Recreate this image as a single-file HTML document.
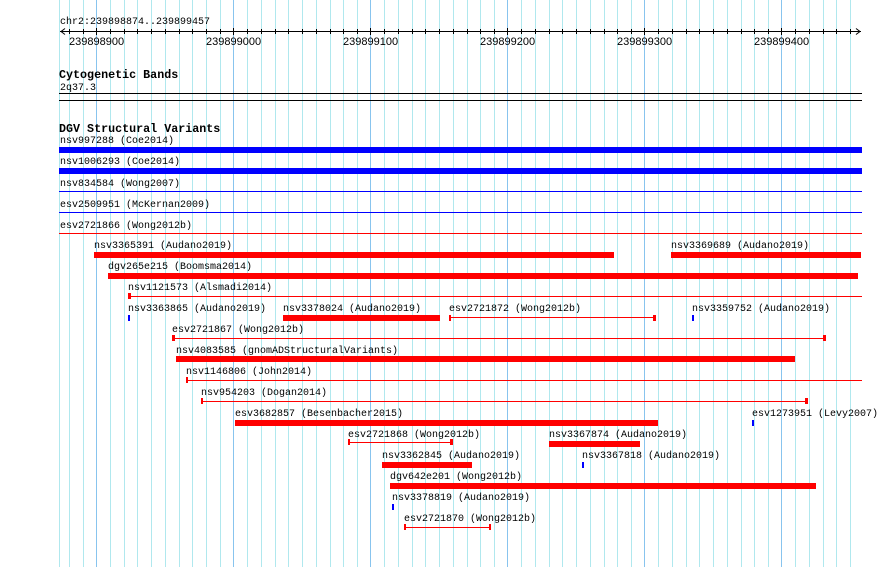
<!DOCTYPE html>
<html><head><meta charset="utf-8"><style>
html,body{margin:0;padding:0;background:#fff;width:890px;height:567px;overflow:hidden}
svg{display:block}
text{font-family:"Liberation Mono",monospace;font-size:10px;fill:#000}
.b{font-weight:bold;font-size:11.7px}
.n{font-family:"Liberation Sans",sans-serif;font-size:11px}
</style></head><body>
<svg width="890" height="567" xmlns="http://www.w3.org/2000/svg" shape-rendering="crispEdges">
<g stroke="#b0e8ee" stroke-width="1">
<line x1="59.5" y1="0" x2="59.5" y2="567"/>
<line x1="69.5" y1="0" x2="69.5" y2="567"/><line x1="83.5" y1="0" x2="83.5" y2="567"/>
<line x1="110.5" y1="0" x2="110.5" y2="567"/><line x1="124.5" y1="0" x2="124.5" y2="567"/><line x1="137.5" y1="0" x2="137.5" y2="567"/><line x1="151.5" y1="0" x2="151.5" y2="567"/><line x1="165.5" y1="0" x2="165.5" y2="567"/><line x1="179.5" y1="0" x2="179.5" y2="567"/><line x1="192.5" y1="0" x2="192.5" y2="567"/><line x1="206.5" y1="0" x2="206.5" y2="567"/><line x1="220.5" y1="0" x2="220.5" y2="567"/>
<line x1="247.5" y1="0" x2="247.5" y2="567"/><line x1="261.5" y1="0" x2="261.5" y2="567"/><line x1="275.5" y1="0" x2="275.5" y2="567"/><line x1="288.5" y1="0" x2="288.5" y2="567"/><line x1="302.5" y1="0" x2="302.5" y2="567"/><line x1="316.5" y1="0" x2="316.5" y2="567"/><line x1="330.5" y1="0" x2="330.5" y2="567"/><line x1="343.5" y1="0" x2="343.5" y2="567"/><line x1="357.5" y1="0" x2="357.5" y2="567"/>
<line x1="384.5" y1="0" x2="384.5" y2="567"/><line x1="398.5" y1="0" x2="398.5" y2="567"/><line x1="412.5" y1="0" x2="412.5" y2="567"/><line x1="425.5" y1="0" x2="425.5" y2="567"/><line x1="439.5" y1="0" x2="439.5" y2="567"/><line x1="453.5" y1="0" x2="453.5" y2="567"/><line x1="467.5" y1="0" x2="467.5" y2="567"/><line x1="480.5" y1="0" x2="480.5" y2="567"/><line x1="494.5" y1="0" x2="494.5" y2="567"/>
<line x1="521.5" y1="0" x2="521.5" y2="567"/><line x1="535.5" y1="0" x2="535.5" y2="567"/><line x1="549.5" y1="0" x2="549.5" y2="567"/><line x1="562.5" y1="0" x2="562.5" y2="567"/><line x1="576.5" y1="0" x2="576.5" y2="567"/><line x1="590.5" y1="0" x2="590.5" y2="567"/><line x1="604.5" y1="0" x2="604.5" y2="567"/><line x1="617.5" y1="0" x2="617.5" y2="567"/><line x1="631.5" y1="0" x2="631.5" y2="567"/>
<line x1="658.5" y1="0" x2="658.5" y2="567"/><line x1="672.5" y1="0" x2="672.5" y2="567"/><line x1="686.5" y1="0" x2="686.5" y2="567"/><line x1="699.5" y1="0" x2="699.5" y2="567"/><line x1="713.5" y1="0" x2="713.5" y2="567"/><line x1="727.5" y1="0" x2="727.5" y2="567"/><line x1="741.5" y1="0" x2="741.5" y2="567"/><line x1="754.5" y1="0" x2="754.5" y2="567"/><line x1="768.5" y1="0" x2="768.5" y2="567"/>
<line x1="795.5" y1="0" x2="795.5" y2="567"/><line x1="809.5" y1="0" x2="809.5" y2="567"/><line x1="823.5" y1="0" x2="823.5" y2="567"/><line x1="836.5" y1="0" x2="836.5" y2="567"/><line x1="850.5" y1="0" x2="850.5" y2="567"/>
</g>
<g stroke="#88c4ee" stroke-width="1">
<line x1="96.5" y1="0" x2="96.5" y2="567"/><line x1="233.5" y1="0" x2="233.5" y2="567"/><line x1="370.5" y1="0" x2="370.5" y2="567"/><line x1="507.5" y1="0" x2="507.5" y2="567"/><line x1="644.5" y1="0" x2="644.5" y2="567"/><line x1="781.5" y1="0" x2="781.5" y2="567"/>
</g>
<text x="60" y="24">chr2:239898874..239899457</text>
<g stroke="#000" stroke-width="1" fill="none">
<line x1="60" y1="31.5" x2="861" y2="31.5"/>
<polyline points="65,28.5 61,31.5 65,34.5" shape-rendering="auto"/>
<polyline points="856,28.5 860,31.5 856,34.5" shape-rendering="auto"/>
</g>
<g stroke="#000" stroke-width="1">
<path d="M69.5 29v5M83.5 29v5M96.5 28v7M110.5 29v5M124.5 29v5M137.5 29v5M151.5 29v5M165.5 29v5M179.5 29v5M192.5 29v5M206.5 29v5M220.5 29v5M233.5 28v7M247.5 29v5M261.5 29v5M275.5 29v5M288.5 29v5M302.5 29v5M316.5 29v5M330.5 29v5M343.5 29v5M357.5 29v5M370.5 28v7M384.5 29v5M398.5 29v5M412.5 29v5M425.5 29v5M439.5 29v5M453.5 29v5M467.5 29v5M480.5 29v5M494.5 29v5M507.5 28v7M521.5 29v5M535.5 29v5M549.5 29v5M562.5 29v5M576.5 29v5M590.5 29v5M604.5 29v5M617.5 29v5M631.5 29v5M644.5 28v7M658.5 29v5M672.5 29v5M686.5 29v5M699.5 29v5M713.5 29v5M727.5 29v5M741.5 29v5M754.5 29v5M768.5 29v5M781.5 28v7M795.5 29v5M809.5 29v5M823.5 29v5M836.5 29v5M850.5 29v5"/>
</g>
<text class="n" x="69" y="45">239898900</text>
<text class="n" x="206" y="45">239899000</text>
<text class="n" x="343" y="45">239899100</text>
<text class="n" x="480" y="45">239899200</text>
<text class="n" x="617" y="45">239899300</text>
<text class="n" x="754" y="45">239899400</text>
<text class="b" x="59" y="78">Cytogenetic Bands</text>
<text x="60" y="90">2q37.3</text>
<rect x="59" y="93" width="803" height="1" fill="#000"/>
<rect x="59" y="100" width="803" height="1" fill="#000"/>
<text class="b" x="59" y="132">DGV Structural Variants</text>
<text x="60" y="143">nsv997288 (Coe2014)</text>
<rect x="59" y="147" width="803" height="6" fill="#0000ff"/>
<text x="60" y="164">nsv1006293 (Coe2014)</text>
<rect x="59" y="168" width="803" height="6" fill="#0000ff"/>
<text x="60" y="186">nsv834584 (Wong2007)</text>
<rect x="59" y="191" width="803" height="1" fill="#0000ff"/>
<text x="60" y="207">esv2509951 (McKernan2009)</text>
<rect x="59" y="212" width="803" height="1" fill="#0000ff"/>
<text x="60" y="228">esv2721866 (Wong2012b)</text>
<rect x="59" y="233" width="803" height="1" fill="#ff0000"/>
<g fill="#ff0000">
<text x="94" y="248">nsv3365391 (Audano2019)</text>
<rect x="94" y="252" width="520" height="6"/>
<text x="671" y="248">nsv3369689 (Audano2019)</text>
<rect x="671" y="252" width="190" height="6"/>
<text x="108" y="269">dgv265e215 (Boomsma2014)</text>
<rect x="108" y="273" width="750" height="6"/>
<text x="128" y="290">nsv1121573 (Alsmadi2014)</text>
<rect x="128" y="293" width="3" height="6"/><rect x="128" y="296" width="734" height="1"/>
<text x="128" y="311">nsv3363865 (Audano2019)</text>
<text x="283" y="311">nsv3378024 (Audano2019)</text>
<rect x="283" y="315" width="157" height="6"/>
<text x="449" y="311">esv2721872 (Wong2012b)</text>
<rect x="449" y="315" width="2" height="6"/><rect x="449" y="317" width="206" height="1"/><rect x="653" y="315" width="3" height="6"/>
<text x="692" y="311">nsv3359752 (Audano2019)</text>
<text x="172" y="332">esv2721867 (Wong2012b)</text>
<rect x="172" y="335" width="3" height="6"/><rect x="172" y="338" width="654" height="1"/><rect x="823" y="335" width="3" height="6"/>
<text x="176" y="353">nsv4083585 (gnomADStructuralVariants)</text>
<rect x="176" y="356" width="619" height="6"/>
<text x="186" y="374">nsv1146806 (John2014)</text>
<rect x="186" y="377" width="2" height="6"/><rect x="186" y="380" width="676" height="1"/>
<text x="201" y="395">nsv954203 (Dogan2014)</text>
<rect x="201" y="398" width="2" height="6"/><rect x="201" y="401" width="606" height="1"/><rect x="805" y="398" width="3" height="6"/>
<text x="235" y="416">esv3682857 (Besenbacher2015)</text>
<rect x="235" y="420" width="423" height="6"/>
<text x="752" y="416">esv1273951 (Levy2007)</text>
<text x="348" y="437">esv2721868 (Wong2012b)</text>
<rect x="348" y="439" width="2" height="6"/><rect x="348" y="442" width="104" height="1"/><rect x="450" y="439" width="3" height="6"/>
<text x="549" y="437">nsv3367874 (Audano2019)</text>
<rect x="549" y="441" width="91" height="6"/>
<text x="382" y="458">nsv3362845 (Audano2019)</text>
<rect x="382" y="462" width="90" height="6"/>
<text x="582" y="458">nsv3367818 (Audano2019)</text>
<text x="390" y="479">dgv642e201 (Wong2012b)</text>
<rect x="390" y="483" width="426" height="6"/>
<text x="392" y="500">nsv3378819 (Audano2019)</text>
<text x="404" y="521">esv2721870 (Wong2012b)</text>
<rect x="404" y="524" width="2" height="6"/><rect x="404" y="527" width="86" height="1"/><rect x="489" y="524" width="2" height="6"/>
</g>
<g fill="#0000ff">
<rect x="128" y="315" width="2" height="6"/>
<rect x="692" y="315" width="2" height="6"/>
<rect x="752" y="420" width="2" height="6"/>
<rect x="582" y="462" width="2" height="6"/>
<rect x="392" y="504" width="2" height="6"/>
</g>
</svg>
</body></html>
